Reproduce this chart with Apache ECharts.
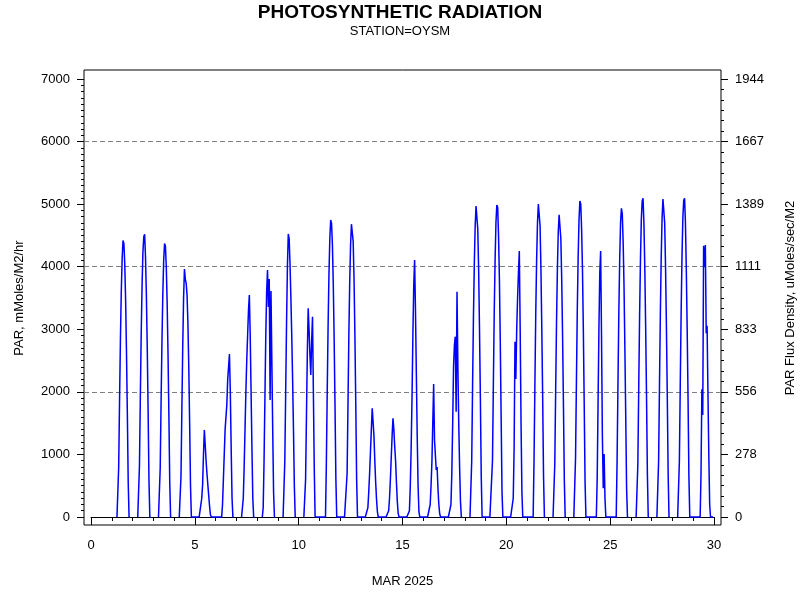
<!DOCTYPE html>
<html>
<head>
<meta charset="utf-8">
<script src="https://cdn.jsdelivr.net/npm/echarts@6/dist/echarts.min.js"></script>
<style>html,body{margin:0;padding:0;background:#fff}#c{width:800px;height:600px}</style>
</head>
<body>
<div id="c"></div>
<script>
// Hourly PAR (mMoles/M2/hr), March 2025, hours 06..21 of each day
const HOURS = [6,7,8,9,10,11,12,13,14,15,16,17,18,19,20,21];
const mar01 = [0,0,800,1860,2830,3600,4130,4420,4370,4050,3470,2650,1660,560,0,0];
const mar02 = [0,0,810,1900,2900,3690,4230,4480,4520,4150,3550,2720,1700,580,0,0];
const mar03 = [0,0,790,1840,2800,3560,4100,4370,4330,4000,3430,2620,1640,560,0,0];
const mar04 = [0,0,650,1700,2700,3500,3963,3800,3735,3550,3100,2400,1500,500,0,0];
const mar05 = [0,0,300,520,1000,1390,1150,900,700,520,350,180,40,0,0,0];
const mar06 = [0,0,200,600,1000,1400,1430,1800,2200,2400,2605,2000,1100,300,0,0];
const mar07 = [0,0,300,800,1400,2000,2500,2900,3300,3548,2900,2000,1100,300,0,0];
const mar08 = [0,150,900,1900,2900,3600,3948,3356,3804,1870,3612,2500,1400,400,0,0];
const mar09 = [0,0,900,2000,3100,4000,4523,4450,4050,3500,2900,2200,1400,500,0,0];
const mar10 = [0,0,600,1600,2600,3335,3000,2600,2270,2800,3200,2000,800,0,0,0];
const mar11 = [0,0,850,2000,3040,3870,4440,4747,4690,4350,3720,2850,1780,610,0,0];
const mar12 = [0,0,700,1800,2900,3750,4350,4680,4704,4400,3800,2900,1800,600,0,0];
const mar13 = [0,0,150,400,700,1050,1400,1737,1720,1300,900,550,280,80,0,0];
const mar14 = [0,0,100,300,600,950,1300,1577,1400,1124,900,550,250,60,0,0];
const mar15 = [0,0,100,500,1100,1900,2900,3700,4107,3300,2300,1300,500,80,0,0];
const mar16 = [0,0,200,500,884,900,2126,1230,1200,750,800,450,200,50,0,0];
const mar17 = [0,0,200,700,1500,2400,2750,2882,1683,3601,2400,1500,800,250,0,0];
const mar18 = [0,0,900,2100,3200,4050,4650,4970,4950,4600,3950,3000,1900,650,0,0];
const mar19 = [0,0,900,2100,3250,4100,4700,4987,4950,4500,3800,2800,1600,400,0,0];
const mar20 = [0,0,300,1100,2802,2205,3000,3500,3900,4251,3000,1500,400,0,0,0];
const mar21 = [0,0,900,2100,3250,4100,4700,5000,5029,4650,3950,3000,1900,650,0,0];
const mar22 = [0,0,850,2000,3100,3950,4550,4830,4853,4450,3800,2900,1800,600,0,0];
const mar23 = [0,0,950,2150,3300,4150,4750,5050,5000,4600,3950,3000,1800,550,0,0];
const mar24 = [0,0,0,600,1800,3000,3900,4251,2900,1300,458,1007,300,0,0,0];
const mar25 = [0,0,900,2100,3250,4100,4700,4933,4850,4400,3700,2700,1600,450,0,0];
const mar26 = [0,0,850,2050,3200,4100,4750,5050,5093,4700,4000,3050,1950,700,0,0];
const mar27 = [0,0,900,2100,3250,4150,4780,5080,5109,4700,4000,3050,1950,700,0,0];
const mar28 = [0,0,900,2100,3250,4150,4780,5060,5093,4700,3950,3000,1900,650,0,0];
const mar29 = [0,0,0,700,2041,1630,4336,3991,4346,2936,3057,2000,1000,200,0,0];
const DAYS = [mar01,mar02,mar03,mar04,mar05,mar06,mar07,mar08,mar09,mar10,mar11,mar12,mar13,mar14,mar15,
              mar16,mar17,mar18,mar19,mar20,mar21,mar22,mar23,mar24,mar25,mar26,mar27,mar28,mar29];
// nights (after day d) whose overnight hours were recorded as 0; other nights are missing
const zeroNights = [4,5,10,11,12,13,14,15,16,18,19,20,23,24,28];
const NIGHT_HOURS = [22,23,24,25,26,27,28,29];
const LAST_NIGHT_HOURS = [22,23];

const data = [];
DAYS.forEach((vals, i) => {
  const d = i + 1;
  HOURS.forEach((h, k) => data.push([d + h/24, vals[k]]));
  if (d < DAYS.length) {
    if (zeroNights.includes(d)) NIGHT_HOURS.forEach(h => data.push([d + h/24, 0]));
    else data.push([d + 0.95, null]);
  } else {
    LAST_NIGHT_HOURS.forEach(h => data.push([d + h/24, 0]));
  }
});

const FONT = "'Liberation Sans', Arial, sans-serif";
const BLACK = '#000';
const chart = echarts.init(document.getElementById('c'), null, {renderer: 'canvas'});
chart.setOption({
  animation: false,
  backgroundColor: '#fff',
  textStyle: {fontFamily: FONT, color: BLACK},
  title: {
    text: 'PHOTOSYNTHETIC RADIATION',
    subtext: 'STATION=OYSM',
    left: 'center', top: -2, itemGap: 3,
    textStyle: {fontFamily: FONT, fontSize: 19, fontWeight: 'bold', color: BLACK},
    subtextStyle: {fontFamily: FONT, fontSize: 13, color: BLACK}
  },
  grid: [
    {left: 84, right: 79, top: 70, bottom: 75, show: true, borderColor: BLACK, borderWidth: 1,
     backgroundColor: 'transparent', containLabel: false, outerBoundsMode: 'none'},
    {left: 84, right: 79, top: 79, bottom: 83, containLabel: false, outerBoundsMode: 'none'},
    {left: 91, right: 86, top: 79, bottom: 83, containLabel: false, outerBoundsMode: 'none'}
  ],
  xAxis: [
    {gridIndex: 0, type: 'value', show: false, min: 0, max: 1},
    {gridIndex: 1, type: 'value', show: false, min: 0, max: 1},
    {gridIndex: 2, type: 'value', min: 0, max: 30, interval: 5, offset: 10,
     name: 'MAR 2025', nameLocation: 'middle', nameGap: 48,
     nameTextStyle: {fontFamily: FONT, fontSize: 13, color: BLACK},
     axisLine: {show: true, lineStyle: {color: BLACK, width: 1}},
     axisTick: {show: true, length: 8, lineStyle: {color: BLACK}},
     minorTick: {show: true, splitNumber: 5, length: 4, lineStyle: {color: BLACK}},
     axisLabel: {fontFamily: FONT, fontSize: 13, color: BLACK, margin: 12},
     splitLine: {show: false}}
  ],
  yAxis: [
    {gridIndex: 0, type: 'value', show: false, min: 0, max: 1},
    {gridIndex: 1, type: 'value', position: 'left', min: 0, max: 7000, interval: 1000,
     name: 'PAR, mMoles/M2/hr', nameLocation: 'middle', nameGap: 58, nameRotate: 90,
     nameTextStyle: {fontFamily: FONT, fontSize: 13, color: BLACK},
     axisLine: {show: false, onZero: false},
     axisTick: {show: true, length: 7, lineStyle: {color: BLACK}},
     minorTick: {show: true, splitNumber: 10, length: 3, lineStyle: {color: BLACK}},
     axisLabel: {fontFamily: FONT, fontSize: 13, color: BLACK, margin: 14, formatter: v => String(v)},
     splitLine: {show: false}},
    {gridIndex: 1, type: 'value', position: 'right', min: 0, max: 7000, interval: 1000,
     name: 'PAR Flux Density, uMoles/sec/M2', nameLocation: 'middle', nameGap: 63, nameRotate: 90,
     nameTextStyle: {fontFamily: FONT, fontSize: 13, color: BLACK},
     axisLine: {show: false, onZero: false},
     axisTick: {show: true, length: 7, lineStyle: {color: BLACK}},
     minorTick: {show: true, splitNumber: 6, length: 3, lineStyle: {color: BLACK}},
     axisLabel: {fontFamily: FONT, fontSize: 13, color: BLACK, margin: 14,
                 formatter: v => String(Math.round(v / 3.6))},
     splitLine: {show: false}},
    {gridIndex: 2, type: 'value', show: false, min: 0, max: 7000},
    {gridIndex: 1, type: 'value', position: 'left', min: 0, max: 7000, interval: 2000,
     axisLine: {show: false, onZero: false}, axisTick: {show: false}, axisLabel: {show: false},
     splitLine: {show: true, showMinLine: false, showMaxLine: false,
                 lineStyle: {color: '#808080', type: [5, 3], width: 1}}}
  ],
  series: [{
    type: 'line',
    xAxisIndex: 2, yAxisIndex: 3,
    data: data,
    showSymbol: false,
    connectNulls: false,
    clip: false,
    lineStyle: {color: '#0000ff', width: 1.5}
  }]
});
</script>
</body>
</html>
